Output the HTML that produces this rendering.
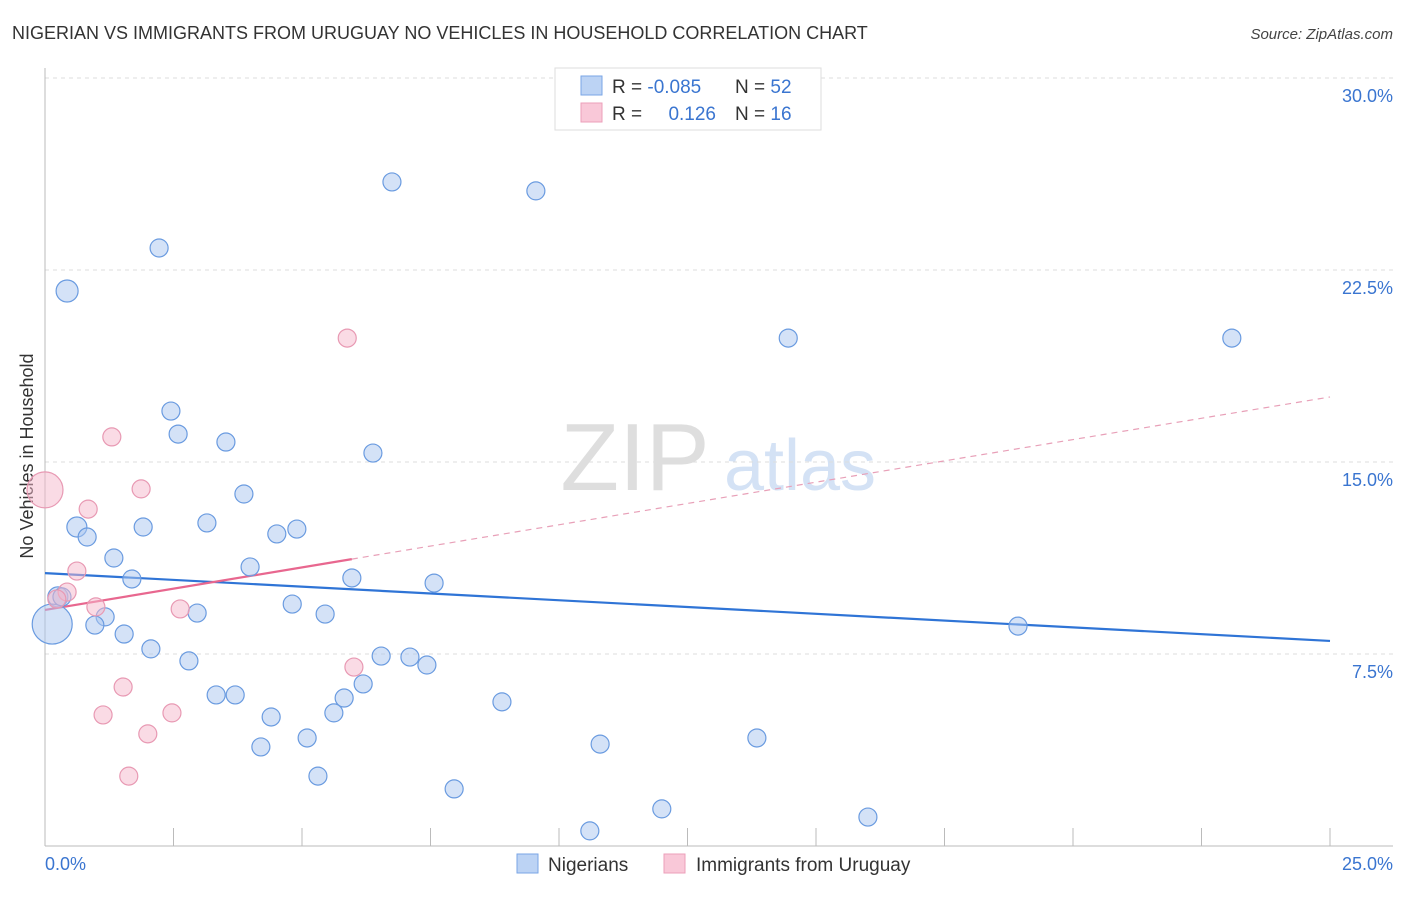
<!DOCTYPE html>
<html><head><meta charset="utf-8"><style>
body{margin:0;background:#fff;font-family:"Liberation Sans",sans-serif;}
svg text{font-family:"Liberation Sans",sans-serif;}
</style></head><body>
<svg id="chart" width="1406" height="892" xmlns="http://www.w3.org/2000/svg">
<text x="12" y="39" font-size="18" fill="#333">NIGERIAN VS IMMIGRANTS FROM URUGUAY NO VEHICLES IN HOUSEHOLD CORRELATION CHART</text>
<text x="1393" y="39" font-size="15" fill="#444" font-style="italic" text-anchor="end">Source: ZipAtlas.com</text>
<text x="33" y="456" font-size="18" fill="#333" text-anchor="middle" transform="rotate(-90 33 456)">No Vehicles in Household</text>
<g><text x="635" y="490" font-size="96" fill="#dedede" font-family="Liberation Serif" text-anchor="middle">ZIP</text><text x="800" y="490" font-size="72" fill="#d4e2f5" text-anchor="middle">atlas</text></g>
<g id="grid"></g><g id="axes"></g><g id="trend"></g><g id="pts"></g>
<g>
<rect x="555" y="68" width="266" height="62" fill="#fff" stroke="#ddd"/>
<rect x="581" y="76" width="21" height="19" fill="#bcd3f4" stroke="#7aa6e6"/>
<rect x="581" y="103" width="21" height="19" fill="#f9c8d8" stroke="#ec9fba"/>
<text x="612" y="93" font-size="19" fill="#333">R = <tspan fill="#3a75d0">-0.085</tspan></text>
<text x="735" y="93" font-size="19" fill="#333">N = <tspan fill="#3a75d0">52</tspan></text>
<text x="612" y="120" font-size="19" fill="#333">R = </text>
<text x="716" y="120" font-size="19" fill="#3a75d0" text-anchor="end">0.126</text>
<text x="735" y="120" font-size="19" fill="#333">N = <tspan fill="#3a75d0"> 16</tspan></text>
</g>
<g>
<rect x="517" y="854" width="21" height="19" fill="#bcd3f4" stroke="#7aa6e6"/>
<text x="548" y="871" font-size="19" fill="#333">Nigerians</text>
<rect x="664" y="854" width="21" height="19" fill="#f9c8d8" stroke="#ec9fba"/>
<text x="696" y="871" font-size="19" fill="#333">Immigrants from Uruguay</text>
</g>
</svg>
<script>
const yTicks=[7.5,15,22.5,30];
const yTickLabels=["7.5%","15.0%","22.5%","30.0%"];
const xTickLabels=["0.0%","25.0%"];
const nigX=[6.75,9.55,2.22,0.43,14.46,23.09,2.45,2.59,3.52,6.38,3.87,0.62,0.82,1.91,3.15,4.90,4.51,1.34,1.69,3.99,5.97,7.57,0.25,0.33,1.17,2.96,4.81,5.45,0.97,18.93,1.54,0.14,2.06,2.80,6.54,7.10,7.43,6.19,3.33,3.70,5.82,8.89,4.40,5.62,5.10,4.20,10.80,13.85,5.31,7.96,12.00,16.01,10.60];
const nigY=[25.94,25.59,23.36,21.68,19.84,19.84,16.99,16.09,15.78,15.35,13.75,12.46,12.07,12.46,12.62,12.38,12.19,11.25,10.43,10.90,10.47,10.27,9.73,9.73,8.95,9.10,9.45,9.06,8.63,8.59,8.28,8.67,7.70,7.23,7.42,7.38,7.07,6.33,5.90,5.90,5.78,5.63,5.04,5.20,4.22,3.87,3.98,4.22,2.73,2.23,1.45,1.13,0.59];
const nigR=[9,9,9,11,9,9,9,9,9,9,9,10,9,9,9,9,9,9,9,9,9,9,10,9,9,9,9,9,9,9,9,20,9,9,9,9,9,9,9,9,9,9,9,9,9,9,9,9,9,9,9,9,9];
const uruX=[5.88,0,1.30,1.87,0.84,0.62,0.43,0.23,0.99,2.63,6.01,1.52,1.13,2.47,2.00,1.63];
const uruY=[19.84,13.91,15.98,13.95,13.16,10.74,9.92,9.65,9.34,9.26,6.99,6.21,5.12,5.20,4.38,2.73];
const uruR=[9,18,9,9,9,9,9,9,9,9,9,9,9,9,9,9];
const nigTrend=[10.66,8.01];
const uruTrend=[9.22,17.54];
const uruSolidEnd=5.97;
const NS="http://www.w3.org/2000/svg";
const X=v=>45+v/25*1285, Y=v=>846-v/30*768;
function mk(tag,attrs,parent){const e=document.createElementNS(NS,tag);for(const k in attrs)e.setAttribute(k,attrs[k]);parent.appendChild(e);return e;}
const grid=document.getElementById('grid'),axes=document.getElementById('axes'),trend=document.getElementById('trend'),pts=document.getElementById('pts');
yTicks.forEach((t,i)=>{
 const l=mk('line',{x1:45,x2:1393,y1:Y(t),y2:Y(t),stroke:'#ddd','stroke-dasharray':'4,4'},grid);
 
 
 const tx=mk('text',{x:1393,y:Y(t)+24,'font-size':18,fill:'#3a75d0','text-anchor':'end'},axes);
 tx.textContent=yTickLabels[i];
 
 
});
const la=mk('line',{x1:45,x2:45,y1:68,y2:846,stroke:'#bbb'},axes);


const ba=mk('line',{x1:45,x2:1393,y1:846,y2:846,stroke:'#bbb'},axes);


for(let i=0;i<=10;i++){
 const t=mk('line',{x1:X(i*2.5),x2:X(i*2.5),y1:828,y2:846,stroke:'#bbb'},axes);
 
 
}
[[0,'start',45],[25,'end',1393]].forEach((d,i)=>{
 const tx=mk('text',{x:d[2],y:870,'font-size':18,fill:'#3a75d0','text-anchor':d[1]},axes);
 tx.textContent=xTickLabels[i];
 
 
});
nigX.forEach((x,i)=>{
 const c=mk('circle',{cx:X(x),cy:Y(nigY[i]),r:nigR[i],fill:'rgba(169,198,239,0.5)',stroke:'#6a9be0','stroke-width':1.2},pts);
 
 
});
uruX.forEach((x,i)=>{
 const c=mk('circle',{cx:X(x),cy:Y(uruY[i]),r:uruR[i],fill:'rgba(245,184,204,0.5)',stroke:'#e899b3','stroke-width':1.2},pts);
 
 
});
const bl=mk('line',{x1:X(0),y1:Y(nigTrend[0]),x2:X(25),y2:Y(nigTrend[1]),stroke:'#2f74d6','stroke-width':2.2},trend);


const uy=x=>uruTrend[0]+(uruTrend[1]-uruTrend[0])*x/25;
const ps=mk('line',{x1:X(0),y1:Y(uy(0)),x2:X(uruSolidEnd),y2:Y(uy(uruSolidEnd)),stroke:'#e8678f','stroke-width':2.2},trend);


const pd=mk('line',{x1:X(uruSolidEnd),y1:Y(uy(uruSolidEnd)),x2:X(25),y2:Y(uy(25)),stroke:'#e8a0b8','stroke-width':1.2,'stroke-dasharray':'6,5'},trend);


</script>
</body></html>
